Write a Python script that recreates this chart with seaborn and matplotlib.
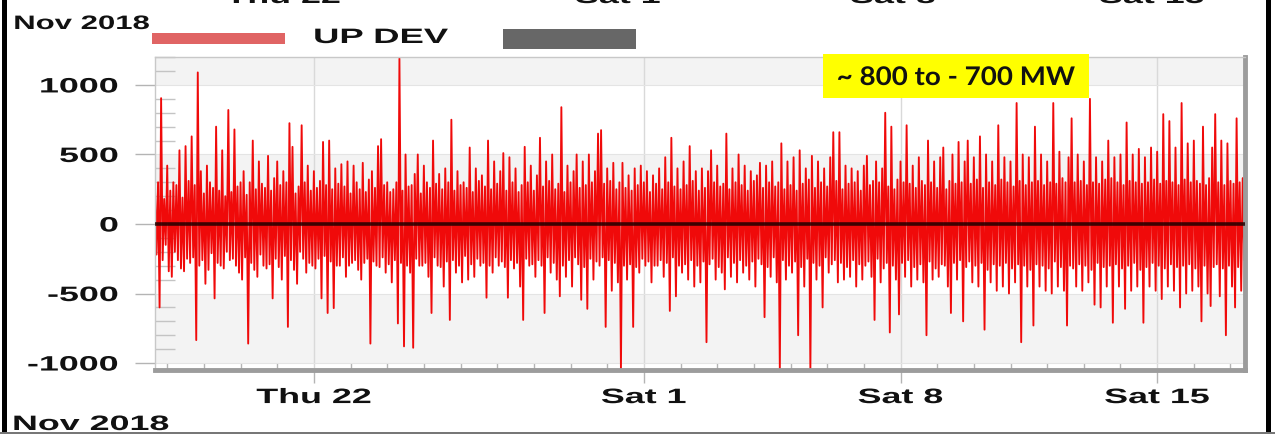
import numpy as np
import pandas as pd
import matplotlib
matplotlib.use("Agg")
import matplotlib.pyplot as plt
import matplotlib.dates as mdates
from matplotlib.patches import Rectangle
from matplotlib.patheffects import AbstractPathEffect
from matplotlib.transforms import Affine2D
from matplotlib.ticker import MultipleLocator
import seaborn as sns

# ---------------- data (MW, hourly, one row per day from 16:00) -------------
START = "2018-11-17 16:00"
STEP = "1h"
dev_mw = [
    250, -220, 300, -600, 905, -260, 180, -150, 420, -340, 240, -380, 300, -200, 280, -260, 530, -320, 190, -340, 560, -250, 310, -280,
    630, -240, 280, -835, 1090, -300, 380, -260, 220, -430, 420, -330, 300, -210, 260, -535, 700, -280, 240, -300, 530, -320, 200, -200,
    820, -260, 230, -250, 680, -300, 270, -350, 300, -400, 380, -240, 210, -860, 300, -280, 600, -330, 250, -380, 450, -220, 290, -300,
    260, -320, 490, -290, 240, -535, 330, -250, 450, -310, 280, -400, 380, -230, 300, -740, 725, -260, 555, -330, 220, -430, 270, -200,
    710, -250, 300, -350, 420, -280, 240, -300, 380, -320, 260, -250, 310, -535, 590, -230, 280, -640, 600, -270, 250, -605, 400, -300,
    290, -300, 430, -240, 270, -380, 450, -300, 220, -280, 420, -260, 300, -330, 250, -400, 440, -280, 230, -250, 320, -860, 380, -270,
    260, -300, 560, -310, 610, -240, 280, -350, 300, -290, 230, -420, 250, -260, 300, -715, 1190, -280, 240, -880, 500, -300, 270, -350,
    280, -890, 360, -250, 500, -300, 220, -300, 420, -280, 300, -380, 260, -640, 600, -240, 290, -300, 360, -310, 250, -450, 400, -270,
    300, -690, 750, -260, 240, -350, 380, -300, 280, -420, 300, -230, 260, -400, 550, -290, 230, -380, 400, -250, 310, -300, 350, -280,
    270, -530, 600, -300, 250, -350, 450, -240, 290, -300, 380, -270, 510, -310, 240, -530, 480, -260, 300, -320, 400, -280, 230, -450,
    280, -690, 555, -250, 300, -300, 420, -290, 240, -380, 350, -260, 620, -300, 270, -640, 450, -240, 310, -350, 500, -280, 250, -400,
    290, -520, 840, -300, 230, -380, 420, -260, 300, -450, 380, -240, 500, -290, 260, -545, 450, -310, 280, -610, 500, -250, 300, -400,
    380, -270, 650, -300, 675, -240, 290, -740, 400, -260, 310, -480, 440, -280, 250, -420, 300, -1050, 440, -300, 260, -400, 350, -290,
    240, -740, 400, -310, 280, -350, 420, -250, 300, -300, 380, -270, 230, -420, 350, -300, 290, -300, 400, -260, 250, -380, 480, -280,
    300, -625, 620, -240, 270, -520, 400, -300, 250, -350, 450, -290, 280, -400, 560, -260, 310, -450, 380, -300, 240, -420, 400, -270,
    260, -850, 380, -290, 530, -250, 300, -400, 420, -310, 270, -350, 290, -470, 650, -240, 250, -380, 400, -280, 300, -420, 500, -260,
    280, -350, 420, -300, 240, -400, 380, -270, 310, -450, 350, -250, 440, -290, 260, -670, 420, -310, 300, -380, 450, -240, 270, -420,
    300, -1050, 580, -260, 250, -400, 450, -300, 280, -350, 480, -270, 240, -800, 530, -310, 290, -450, 400, -250, 320, -1050, 490, -280,
    260, -400, 450, -300, 300, -600, 400, -240, 270, -350, 480, -290, 660, -260, 310, -420, 660, -280, 250, -400, 420, -310, 290, -380,
    400, -260, 300, -450, 380, -290, 240, -400, 420, -300, 490, -270, 280, -380, 310, -690, 450, -250, 300, -420, 400, -320, 800, -280,
    270, -780, 700, -300, 250, -400, 320, -650, 450, -280, 300, -380, 710, -260, 290, -450, 420, -310, 260, -400, 480, -290, 310, -420,
    280, -800, 600, -270, 300, -400, 450, -320, 260, -380, 480, -290, 550, -300, 250, -450, 310, -640, 500, -280, 290, -400, 590, -260,
    300, -700, 450, -310, 600, -270, 290, -420, 480, -300, 320, -450, 630, -280, 260, -760, 500, -330, 300, -420, 450, -290, 280, -480,
    710, -300, 320, -450, 480, -280, 300, -500, 450, -320, 270, -420, 870, -290, 310, -850, 500, -300, 280, -450, 480, -330, 300, -730,
    700, -290, 310, -450, 500, -300, 280, -480, 450, -320, 300, -500, 870, -270, 290, -450, 520, -310, 330, -480, 300, -730, 480, -300,
    760, -320, 300, -450, 500, -290, 310, -480, 450, -300, 280, -420, 900, -330, 300, -580, 480, -280, 290, -600, 450, -310, 320, -450,
    600, -300, 330, -710, 480, -290, 300, -450, 500, -320, 280, -610, 730, -300, 310, -480, 500, -280, 300, -450, 540, -330, 290, -710,
    480, -310, 300, -450, 550, -280, 320, -480, 520, -300, 290, -540, 790, -320, 310, -450, 740, -290, 300, -480, 550, -310, 280, -600,
    870, -300, 320, -500, 580, -290, 300, -480, 600, -320, 310, -450, 290, -700, 700, -300, 280, -500, 330, -590, 550, -310, 790, -290,
    300, -520, 600, -320, 280, -800, 580, -300, 310, -450, 290, -600, 760, -310, 300, -480, 330, -260,
]
x_range = ["2018-11-17 16:00", "2018-12-17 09:30"]
x_tick_dates = ["2018-11-22", "2018-12-01", "2018-12-08", "2018-12-15"]
x_tick_labels = ["Thu 22", "Sat 1", "Sat 8", "Sat 15"]
y_ticks = [-1000, -500, 0, 500, 1000]
y_tick_labels = ["-1000", "-500", "0", "500", "1000"]
y_range = [-1050, 1201]
legend_label = "UP DEV"
month_label = "Nov 2018"
note_text = "~ 800 to - 700 MW"

RED = "#f00a0a"
SX = 1.72  # horizontal stretch of the screenshot's text


class StretchX(AbstractPathEffect):
    """Draw text glyphs stretched horizontally around an anchor."""

    def __init__(self, sx, anchor="left"):
        super().__init__()
        self.sx = sx
        self.anchor = anchor

    def draw_path(self, renderer, gc, tpath, affine, rgbFace=None):
        ext = tpath.get_extents()
        if self.anchor == "left":
            x0 = ext.x0
        elif self.anchor == "right":
            x0 = ext.x1
        else:
            x0 = 0.5 * (ext.x0 + ext.x1)
        t = Affine2D().translate(-x0, 0).scale(self.sx, 1.0).translate(x0, 0) + affine
        renderer.draw_path(gc, tpath, t, rgbFace)


sns.set_theme(style="white")
plt.rcParams["font.family"] = ["Liberation Sans", "DejaVu Sans"]
plt.rcParams["font.weight"] = "bold"

W, H = 1275, 434


def fx(px):
    return px / W


def fy(py):
    return 1 - py / H


fig = plt.figure(figsize=(W / 100, H / 100), dpi=100)
fig.patch.set_facecolor("white")
ax = fig.add_axes([fx(155), fy(370), (1245 - 155) / W, (370 - 57) / H])
ax.set_facecolor("white")

# alternating bands
for lo in (1000, 0, -1000):
    ax.axhspan(lo, lo + 500, color="#f3f3f3", lw=0, zorder=0)

times = pd.date_range(START, periods=len(dev_mw), freq=STEP)
df = pd.DataFrame({"time": times, "dev": dev_mw})
sns.lineplot(data=df, x="time", y="dev", ax=ax, color=RED, lw=1.35,
             estimator=None, legend=False)
ax.lines[-1].set_zorder(2)

ax.axhline(0, color="#200000", lw=2.6, alpha=0.85, zorder=3)

ax.set_xlim(pd.Timestamp(x_range[0]), pd.Timestamp(x_range[1]))
ax.set_ylim(*y_range)
ax.set_xlabel("")
ax.set_ylabel("")

ax.set_xticks(pd.to_datetime(x_tick_dates))
ax.set_xticklabels(x_tick_labels)
ax.xaxis.set_minor_locator(mdates.DayLocator())
ax.set_yticks(y_ticks)
ax.set_yticklabels(y_tick_labels)
ax.yaxis.set_minor_locator(MultipleLocator(100))

ax.grid(False)
ax.grid(axis="x", which="major", color="#d9d9d9", lw=1, zorder=1)
ax.grid(axis="y", which="major", color="#e4e4e4", lw=0.8, zorder=1)
ax.set_axisbelow(True)

ax.tick_params(axis="y", which="major", direction="out", length=14.4, width=1,
               color="#b4b4b4", pad=12, labelsize=15, labelcolor="#111111", left=True)
ax.tick_params(axis="y", which="minor", direction="in", length=14.4, width=1,
               color="#c4c4c4", left=True)
ax.tick_params(axis="x", which="major", direction="out", length=9, width=1,
               color="#b4b4b4", pad=4, labelsize=15, labelcolor="#111111", bottom=True)
ax.tick_params(axis="x", which="minor", direction="in", length=5, width=1,
               color="#b4b4b4", bottom=True)

for side in ("top", "left"):
    ax.spines[side].set_color("#c8c8c8")
    ax.spines[side].set_linewidth(1)
for side in ("bottom", "right"):
    ax.spines[side].set_color("#9c9c9c")
    ax.spines[side].set_linewidth(3.5)

for lbl in ax.get_yticklabels():
    lbl.set_fontweight("bold")
    lbl.set_path_effects([StretchX(SX, "right")])
for lbl in ax.get_xticklabels():
    lbl.set_fontweight("bold")
    lbl.set_path_effects([StretchX(SX, "center")])

# month labels
fig.text(fx(14), fy(29), month_label, ha="left", va="baseline", fontsize=14,
         fontweight="bold", color="#111111", path_effects=[StretchX(1.6, "left")])
fig.text(fx(13), fy(430), month_label, ha="left", va="baseline", fontsize=15,
         fontweight="bold", color="#111111", path_effects=[StretchX(SX, "left")])

# cut-off tick labels of the chart above (only their lower edge shows, as in the screenshot)
for cx, lbl in zip([283, 618, 893, 1152], x_tick_labels):
    fig.text(fx(cx), fy(3), lbl, ha="center", va="baseline", fontsize=15,
             fontweight="bold", color="#111111", path_effects=[StretchX(SX, "center")])

# legend
fig.add_artist(Rectangle((fx(152), fy(44)), (285 - 152) / W, 11 / H,
                         transform=fig.transFigure, color="#e06464", lw=0))
fig.add_artist(Rectangle((fx(503), fy(49)), (636 - 503) / W, 20 / H,
                         transform=fig.transFigure, color="#676767", lw=0))
fig.text(fx(314), fy(43), legend_label, ha="left", va="baseline", fontsize=15,
         fontweight="bold", color="#111111", path_effects=[StretchX(1.75, "left")])

# yellow annotation
fig.add_artist(Rectangle((fx(823), fy(98)), (1089 - 823) / W, 44 / H,
                         transform=fig.transFigure, color="#ffff00", lw=0, zorder=4))
fig.text(fx(956), fy(85), note_text, ha="center", va="baseline", fontsize=18.5,
         family=["Lato", "DejaVu Sans"], fontweight="bold", color="#111111",
         zorder=5, path_effects=[StretchX(1.08, "center")])

# screenshot frame
fig.add_artist(Rectangle((fx(2), 0), 5 / W, 1, transform=fig.transFigure,
                         color="#000000", lw=0))
fig.add_artist(Rectangle((fx(1266), 0), 5 / W, 1, transform=fig.transFigure,
                         color="#000000", lw=0))
fig.add_artist(Rectangle((0, fy(434)), 1, 2 / H, transform=fig.transFigure,
                         color="#777777", lw=0))

fig.savefig("out.png", dpi=100)
